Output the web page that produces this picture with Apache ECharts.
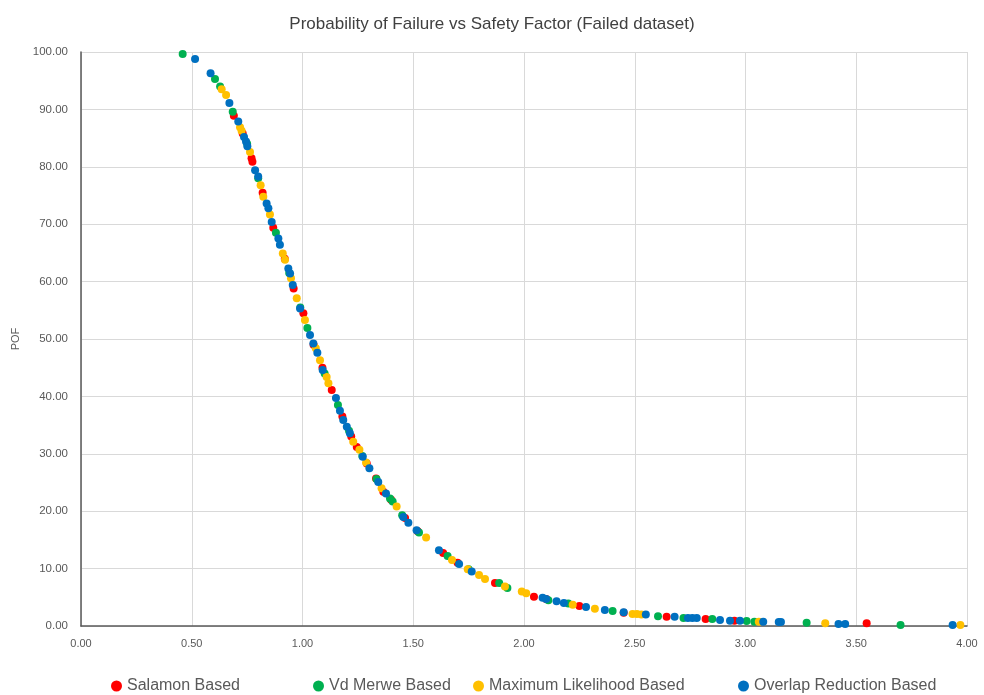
<!DOCTYPE html>
<html><head><meta charset="utf-8">
<script src="https://cdn.jsdelivr.net/npm/echarts@6/dist/echarts.min.js"></script>
<style>html,body{margin:0;padding:0;background:#fff}#c{width:984px;height:695px}</style>
</head><body><div id="c"></div>
<script>
var titleText = 'Probability of Failure vs Safety Factor (Failed dataset)';
var seriesNames = ['Salamon Based', 'Vd Merwe Based', 'Maximum Likelihood Based', 'Overlap Reduction Based'];
var seriesColors = ['#ff0000', '#00b050', '#ffc000', '#0070c0'];

var salamon = [[0.69,88.9],[0.73,85.8],[0.77,81.5],[0.774,80.9],[0.82,75.5],[0.868,69.4],[0.92,64.0],[0.96,58.8],[1.004,54.5],[1.05,49.0],[1.09,45.0],[1.132,41.1],[1.18,36.5],[1.22,33.0],[1.245,31.2],[1.29,28.3],[1.332,25.7],[1.365,23.4],[1.40,22.0],[1.463,18.8],[1.52,16.5],[1.635,12.7],[1.70,11.0],[1.869,7.5],[2.045,5.1],[2.10,4.7],[2.25,3.5],[2.45,2.3],[2.644,1.6],[2.82,1.2],[2.95,0.9],[3.547,0.46]];
var vdMerwe = [[0.459,99.65],[0.605,95.3],[0.628,94.0],[0.685,89.6],[0.75,84.0],[0.80,78.0],[0.88,68.5],[0.94,61.5],[0.99,55.5],[1.022,51.9],[1.10,44.0],[1.16,38.5],[1.21,34.0],[1.27,29.6],[1.334,25.6],[1.395,22.2],[1.407,21.7],[1.45,19.3],[1.526,16.3],[1.655,12.2],[1.75,9.9],[1.888,7.5],[1.925,6.6],[2.11,4.5],[2.20,3.9],[2.40,2.6],[2.605,1.7],[2.72,1.4],[2.85,1.2],[3.005,0.87],[3.04,0.75],[3.276,0.58],[3.70,0.17]];
var maxLikelihood = [[0.635,93.5],[0.655,92.5],[0.718,86.9],[0.725,86.3],[0.763,82.6],[0.811,76.8],[0.823,74.8],[0.853,71.7],[0.911,64.9],[0.921,63.8],[0.948,60.6],[0.974,57.1],[1.011,53.3],[1.06,48.4],[1.079,46.3],[1.109,43.4],[1.117,42.3],[1.229,32.1],[1.257,30.7],[1.287,28.5],[1.357,24.0],[1.425,20.8],[1.558,15.4],[1.675,11.5],[1.746,9.9],[1.797,8.9],[1.824,8.2],[1.914,6.9],[1.99,6.0],[2.01,5.7],[2.22,3.7],[2.32,3.0],[2.49,2.1],[2.51,2.1],[2.53,2.0],[3.06,0.75],[3.36,0.46],[3.97,0.17]];
var overlapReduction = [[0.515,98.8],[0.585,96.3],[0.67,91.1],[0.71,87.9],[0.736,85.2],[0.745,84.4],[0.751,83.6],[0.786,79.4],[0.80,78.3],[0.838,73.6],[0.846,72.8],[0.861,70.4],[0.891,67.5],[0.898,66.4],[0.936,62.3],[0.944,61.4],[0.956,59.4],[0.989,55.3],[1.034,50.7],[1.049,49.2],[1.067,47.6],[1.091,44.6],[1.151,39.7],[1.169,37.5],[1.184,35.9],[1.2,34.7],[1.214,33.6],[1.272,29.5],[1.302,27.5],[1.342,25.1],[1.377,23.1],[1.455,19.0],[1.478,18.0],[1.515,16.7],[1.616,13.2],[1.707,10.8],[1.764,9.5],[2.084,4.9],[2.1,4.7],[2.147,4.3],[2.18,4.0],[2.28,3.3],[2.365,2.8],[2.45,2.4],[2.55,2.0],[2.68,1.6],[2.74,1.4],[2.76,1.4],[2.78,1.4],[2.885,1.05],[2.93,0.9],[2.975,0.9],[3.08,0.75],[3.15,0.7],[3.16,0.7],[3.42,0.35],[3.45,0.35],[3.935,0.17]];

var allData = [salamon, vdMerwe, maxLikelihood, overlapReduction];

var chart = echarts.init(document.getElementById('c'), null, {renderer: 'canvas'});
var txt = '#595959';
var legendLefts = [106, 308, 468, 733];
chart.setOption({
  backgroundColor: '#fff',
  animation: false,
  title: {
    text: titleText, left: 'center', top: 11,
    textStyle: {fontFamily: 'Liberation Sans', fontSize: 17, fontWeight: 'normal', color: '#404040'}
  },
  legend: seriesNames.map(function(n, i){
    return {
      top: 673, left: legendLefts[i], itemGap: 0, itemWidth: 11, itemHeight: 11, icon: 'circle',
      textStyle: {fontFamily: 'Liberation Sans', fontSize: 16, color: txt, padding: [0,0,0,0]},
      data: [n]
    };
  }),
  grid: {left: 81, right: 17, top: 52, bottom: 69, containLabel: false},
  xAxis: {
    type: 'value', min: 0, max: 4, interval: 0.5,
    axisLine: {show: true, lineStyle: {color: '#595959', width: 1.5}},
    axisTick: {show: false},
    axisLabel: {color: txt, fontFamily: 'Liberation Sans', fontSize: 11, margin: 12, formatter: function(v){return v.toFixed(2);}},
    splitLine: {show: true, lineStyle: {color: '#d9d9d9'}}
  },
  yAxis: {
    type: 'value', min: 0, max: 100, interval: 10,
    name: 'POF', nameLocation: 'middle', nameGap: 58, nameRotate: 90,
    nameTextStyle: {color: txt, fontFamily: 'Liberation Sans', fontSize: 11},
    axisLine: {show: true, lineStyle: {color: '#595959', width: 1.5}},
    axisTick: {show: false},
    axisLabel: {color: txt, fontFamily: 'Liberation Sans', fontSize: 11.5, margin: 13, formatter: function(v){return v.toFixed(2);}},
    splitLine: {show: true, lineStyle: {color: '#d9d9d9'}}
  },
  series: seriesNames.map(function(n, i){
    return {name: n, type: 'scatter', symbolSize: 8, data: allData[i],
      itemStyle: {color: seriesColors[i], opacity: 1}};
  })
});
</script></body></html>
